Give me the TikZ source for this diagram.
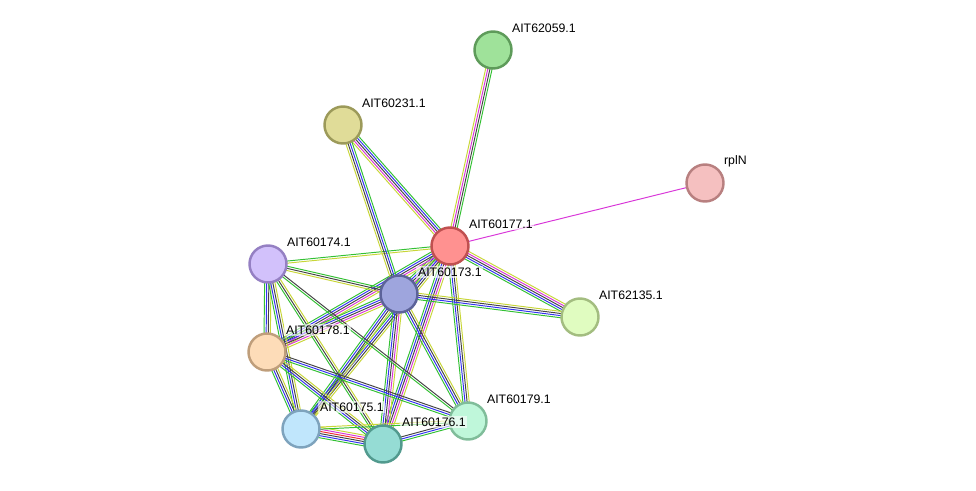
\documentclass[tikz,border=0pt]{standalone}
\usepackage{fontspec}
\setmainfont{Liberation Sans}
\usetikzlibrary{calc,backgrounds}
\definecolor{egreen}{HTML}{33C033}
\definecolor{eblue}{HTML}{3333F0}
\definecolor{eblack}{HTML}{444444}
\definecolor{emag}{HTML}{D835D8}
\definecolor{eyel}{HTML}{C8D638}
\definecolor{ered}{HTML}{EE3030}
% one line per evidence colour, side by side
\newcommand*\edge[3]{%
  \foreach \c [count=\i] in {#3} {\xdef\nn{\i}}
  \foreach \c [count=\i] in {#3} {
    \draw[\c,line width=0.55pt] ($(#1)!{(\i-(\nn+1)/2)*1.2pt}!90:(#2)$) -- ($(#2)!{(\i-(\nn+1)/2)*1.2pt}!-90:(#1)$);}}

\begin{document}
\begin{tikzpicture}[font={\fontsize{7}{8}\selectfont},
  prot/.style={circle,minimum size=0.74cm,inner sep=0pt,line width=1.4pt},
  lbl/.style={anchor=west,inner sep=1pt,fill=white,fill opacity=0.6,text opacity=1}]
\useasboundingbox (0,0) rectangle (19.52,9.8);
% proteins
\node[prot,fill={rgb,255:red,159;green,226;blue,154},draw={rgb,255:red,94;green,155;blue,90}] (p62059) at (9.86,8.8) {};
\node[prot,fill={rgb,255:red,224;green,220;blue,152},draw={rgb,255:red,156;green,154;blue,90}] (p60231) at (6.86,7.3) {};
\node[prot,fill={rgb,255:red,245;green,192;blue,192},draw={rgb,255:red,184;green,128;blue,128}] (prplN) at (14.1,6.14) {};
\node[prot,fill={rgb,255:red,255;green,145;blue,144},draw={rgb,255:red,192;green,80;blue,80}] (p60177) at (9.0,4.88) {};
\node[prot,fill={rgb,255:red,210;green,193;blue,251},draw={rgb,255:red,149;green,128;blue,195}] (p60174) at (5.36,4.52) {};
\node[prot,fill={rgb,255:red,158;green,165;blue,221},draw={rgb,255:red,92;green,99;blue,153}] (p60173) at (7.98,3.92) {};
\node[prot,fill={rgb,255:red,224;green,252;blue,192},draw={rgb,255:red,163;green,189;blue,128}] (p62135) at (11.6,3.46) {};
\node[prot,fill={rgb,255:red,253;green,220;blue,184},draw={rgb,255:red,191;green,158;blue,123}] (p60178) at (5.34,2.76) {};
\node[prot,fill={rgb,255:red,192;green,230;blue,252},draw={rgb,255:red,126;green,163;blue,189}] (p60175) at (6.02,1.22) {};
\node[prot,fill={rgb,255:red,149;green,220;blue,212},draw={rgb,255:red,82;green,154;blue,142}] (p60176) at (7.66,0.92) {};
\node[prot,fill={rgb,255:red,191;green,247;blue,218},draw={rgb,255:red,128;green,189;blue,154}] (p60179) at (9.36,1.38) {};
% labels
\foreach \p/\t in {p62059/AIT62059.1,p60231/AIT60231.1,prplN/rplN,p60177/AIT60177.1,p60174/AIT60174.1,p60173/AIT60173.1,p62135/AIT62135.1,p60178/AIT60178.1,p60175/AIT60175.1,p60176/AIT60176.1,p60179/AIT60179.1}
  \node[lbl] at ($(\p)+(0.34,0.44)$) {\t};
% evidence lines
\begin{scope}[on background layer]
\edge{p60177}{p62059}{egreen,eblack,emag,eyel}
\edge{p60177}{p60231}{egreen,eblue,eblack,emag,eyel}
\edge{p60177}{prplN}{emag}
\edge{p60177}{p60174}{egreen,eyel}
\edge{p60177}{p60173}{egreen,eblue,eblack,emag,eyel}
\edge{p60177}{p62135}{egreen,eblue,eblack,emag,eyel}
\edge{p60177}{p60178}{egreen,eblue,eblack,emag,eyel}
\edge{p60177}{p60175}{egreen,eblue,eblack,eyel}
\edge{p60177}{p60176}{egreen,eblue,eblack,emag,eyel}
\edge{p60177}{p60179}{egreen,eblue,eblack,eyel}
\edge{p60173}{p60231}{egreen,eblue,eblack,eyel}
\edge{p60173}{p60174}{egreen,eblack,eyel}
\edge{p60173}{p62135}{egreen,eblue,eblack,eyel}
\edge{p60173}{p60178}{egreen,eblue,eblack,emag,eyel}
\edge{p60173}{p60175}{egreen,eblue,eblack,eyel}
\edge{p60173}{p60176}{egreen,eblue,eblack,emag,eyel}
\edge{p60173}{p60179}{egreen,eblue,eblack,eyel}
\edge{p60174}{p60178}{egreen,eblue,eblack,eyel}
\edge{p60174}{p60175}{egreen,eblue,eblack,eyel}
\edge{p60174}{p60176}{egreen,eblack,eyel}
\edge{p60174}{p60179}{egreen,eblack}
\edge{p60178}{p60175}{egreen,eblue,eblack,eyel}
\edge{p60178}{p60176}{egreen,eblue,eblack,eyel}
\edge{p60178}{p60179}{egreen,eblue,eblack}
\edge{p60175}{p60176}{egreen,eblue,eblack,ered,emag,eyel}
\edge{p60175}{p60179}{egreen,eyel}
\edge{p60176}{p60179}{egreen,eblue,eblack}
\end{scope}
\end{tikzpicture}
\end{document}
